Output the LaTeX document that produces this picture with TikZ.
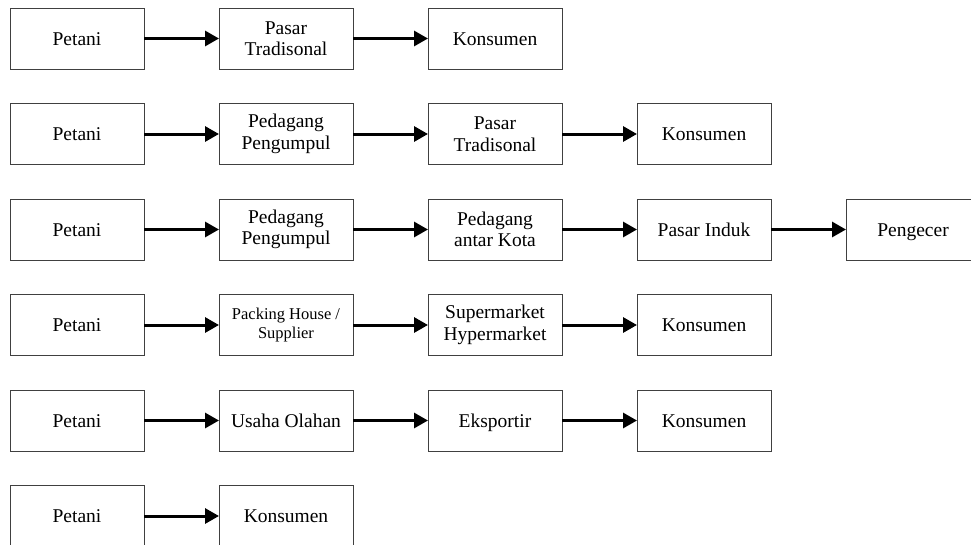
\documentclass[tikz,border=0pt]{standalone}
\usepackage{fontspec}
\setmainfont{Liberation Serif}
\usetikzlibrary{arrows.meta,positioning}

\begin{document}
\begin{tikzpicture}[
  node distance=34.5pt and 75pt,
  twobox/.style={rectangle, draw=black!75, line width=0.8pt, fill=white,
    minimum width=134pt, minimum height=61pt, outer sep=0pt,
    align=center, font=\fontsize{19.5}{21.5}\selectfont},
  box/.style={twobox, text height=13.5pt, text depth=0.5pt},
  smallbox/.style={twobox, font=\fontsize{16.5}{19.5}\selectfont},
  arw/.style={-{Triangle[length=14pt,width=15pt]}, line width=3pt},
]
  \useasboundingbox (-77pt,38.5pt) rectangle (894pt,-505.5pt);

  % row 1
  \node[box] (pa) {Petani};
  \node[twobox, right=of pa] (pb) {Pasar\\Tradisonal};
  \node[box, right=of pb] (pc) {Konsumen};
  % row 2
  \node[box, below=of pa] (qa) {Petani};
  \node[twobox, right=of qa] (qb) {Pedagang\\Pengumpul};
  \node[twobox, right=of qb] (qc) {Pasar\\Tradisonal};
  \node[box, right=of qc] (qd) {Konsumen};
  % row 3
  \node[box, below=of qa] (ra) {Petani};
  \node[twobox, right=of ra] (rb) {Pedagang\\Pengumpul};
  \node[twobox, right=of rb] (rc) {Pedagang\\antar Kota};
  \node[box, right=of rc] (rd) {Pasar Induk};
  \node[box, right=of rd] (re) {Pengecer};
  % row 4
  \node[box, below=of ra] (sa) {Petani};
  \node[smallbox, right=of sa] (sb) {Packing House /\\Supplier};
  \node[twobox, right=of sb] (sc) {Supermarket\\Hypermarket};
  \node[box, right=of sc] (sd) {Konsumen};
  % row 5
  \node[box, below=of sa] (ta) {Petani};
  \node[box, right=of ta] (tb) {Usaha Olahan};
  \node[box, right=of tb] (tc) {Eksportir};
  \node[box, right=of tc] (td) {Konsumen};
  % row 6
  \node[box, below=of ta] (ua) {Petani};
  \node[box, right=of ua] (ub) {Konsumen};

  \draw[arw] (pa) -- (pb);
  \draw[arw] (pb) -- (pc);
  \draw[arw] (qa) -- (qb);
  \draw[arw] (qb) -- (qc);
  \draw[arw] (qc) -- (qd);
  \draw[arw] (ra) -- (rb);
  \draw[arw] (rb) -- (rc);
  \draw[arw] (rc) -- (rd);
  \draw[arw] (rd) -- (re);
  \draw[arw] (sa) -- (sb);
  \draw[arw] (sb) -- (sc);
  \draw[arw] (sc) -- (sd);
  \draw[arw] (ta) -- (tb);
  \draw[arw] (tb) -- (tc);
  \draw[arw] (tc) -- (td);
  \draw[arw] (ua) -- (ub);
\end{tikzpicture}
\end{document}
